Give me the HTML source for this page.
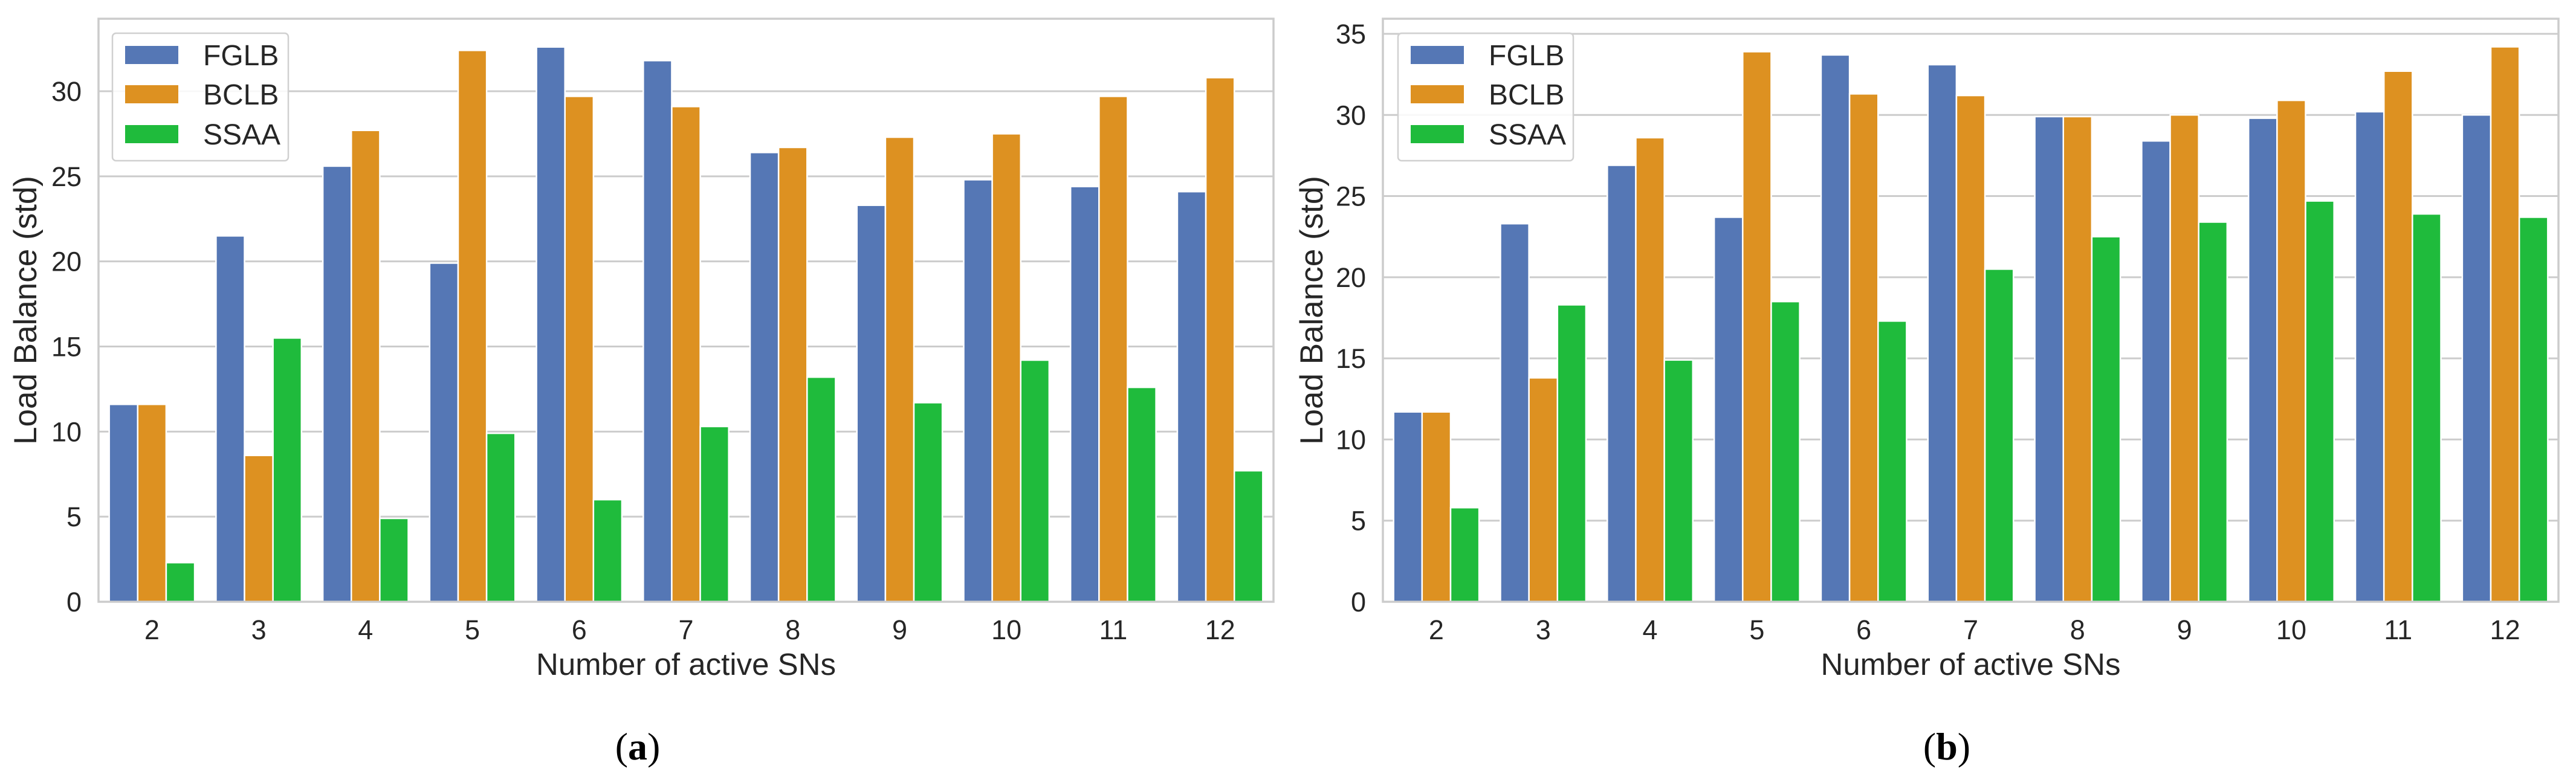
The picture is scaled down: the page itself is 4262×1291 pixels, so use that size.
<!DOCTYPE html>
<html><head><meta charset="utf-8"><style>
html,body{margin:0;padding:0;background:#fff;}
svg{display:block;font-family:"Liberation Sans",Arial,sans-serif;}
</style></head><body>
<svg id="fig" width="4262" height="1291" viewBox="0 0 4262 1291" xmlns="http://www.w3.org/2000/svg"></svg>
<script>
const categories = ["2","3","4","5","6","7","8","9","10","11","12"];
const seriesNames = ["FGLB","BCLB","SSAA"];
const aFGLB = [11.6,21.5,25.6,19.9,32.6,31.8,26.4,23.3,24.8,24.4,24.1];
const aBCLB = [11.6,8.6,27.7,32.4,29.7,29.1,26.7,27.3,27.5,29.7,30.8];
const aSSAA = [2.3,15.5,4.9,9.9,6.0,10.3,13.2,11.7,14.2,12.6,7.7];
const bFGLB = [11.7,23.3,26.9,23.7,33.7,33.1,29.9,28.4,29.8,30.2,30.0];
const bBCLB = [11.7,13.8,28.6,33.9,31.3,31.2,29.9,30.0,30.9,32.7,34.2];
const bSSAA = [5.8,18.3,14.9,18.5,17.3,20.5,22.5,23.4,24.7,23.9,23.7];
const aTicks = [0,5,10,15,20,25,30];
const bTicks = [0,5,10,15,20,25,30,35];

const NS = "http://www.w3.org/2000/svg";
const svg = document.getElementById('fig');
const colors = ["#5577b5","#dd9121","#1fbb3c"];
function mk(tag, attrs, parent){const e=document.createElementNS(NS,tag);for(const k in attrs)e.setAttribute(k,attrs[k]);(parent||svg).appendChild(e);return e;}

function chart(cfg){
  const g = mk('g',{});
  
  
  const L=cfg.left,R=cfg.right,T=31,B=996;
  const y = v => B - v/cfg.ymax*(B-T);
  const band=(R-L)/categories.length;
  const x = i => L + band*i;
  // grid
  cfg.ticks.forEach(t=>{
    const ln=mk('line',{x1:L,x2:R,y1:y(t),y2:y(t),stroke:'#cccccc','stroke-width':3},g);
    
    
    const tx=mk('text',{x:L-28,y:y(t)+16,'text-anchor':'end','font-size':45,fill:'#262626'},g);
    tx.textContent=t;
    
    
  });
  // bars
  const bw=band*0.8/3;
  cfg.series.forEach((s,si)=>{
    s.forEach((v,i)=>{
      const bx=x(i)+band*0.1+bw*si;
      const r=mk('rect',{x:bx,y:y(v),width:bw,height:B-y(v),fill:colors[si],stroke:'#ffffff','stroke-width':2.5},g);
      
      
    });
  });
  categories.forEach((c,i)=>{
    const tx=mk('text',{x:x(i)+band/2,y:1058,'text-anchor':'middle','font-size':45,fill:'#262626'},g);
    tx.textContent=c;
    
    
  });
  // frame
  const fr=mk('rect',{x:L,y:T,width:R-L,height:B-T,fill:'none',stroke:'#cccccc','stroke-width':3.5},g);
  
  
  // axis labels
  const xl=mk('text',{x:(L+R)/2,y:1117,'text-anchor':'middle','font-size':51,fill:'#262626'},g);
  xl.textContent='Number of active SNs';
  
  
  const yl=mk('text',{x:0,y:0,'text-anchor':'middle','font-size':53,fill:'#262626',transform:`translate(${cfg.ylabX},${(T+B)/2}) rotate(-90)`},g);
  yl.textContent='Load Balance (std)';
  
  
  // legend
  const lg=mk('g',{},g);
  
  
  mk('rect',{x:cfg.legX,y:55,width:cfg.legW,height:211,rx:6,fill:'#ffffff','fill-opacity':0.85,stroke:'#d0d0d0','stroke-width':2.5},lg);
  const rows=[91,156,222];
  seriesNames.forEach((n,si)=>{
    const p=mk('rect',{x:cfg.legX+21,y:rows[si]-15,width:88,height:30,fill:colors[si]},lg);
    
    
    const t=mk('text',{x:cfg.legX+150,y:rows[si]+17,'font-size':48,fill:'#262626'},lg);
    t.textContent=n;
    
    
  });
  const cap=mk('text',{x:cfg.capX,y:1257,'text-anchor':'middle','font-size':64,fill:'#000','font-family':'"Liberation Serif",serif'},g);
  cap.innerHTML='(<tspan font-weight="bold">'+cfg.cap+'</tspan>)';
  
  
}
chart({name:'chart-a',left:163,right:2107,ymax:34.26,ticks:aTicks,series:[aFGLB,aBCLB,aSSAA],ylabX:60,legX:186,legW:291,capX:1055,cap:'a'});
chart({name:'chart-b',left:2288,right:4233,ymax:35.93,ticks:bTicks,series:[bFGLB,bBCLB,bSSAA],ylabX:2188,legX:2313,legW:290,capX:3221,cap:'b'});
</script>
</body></html>
